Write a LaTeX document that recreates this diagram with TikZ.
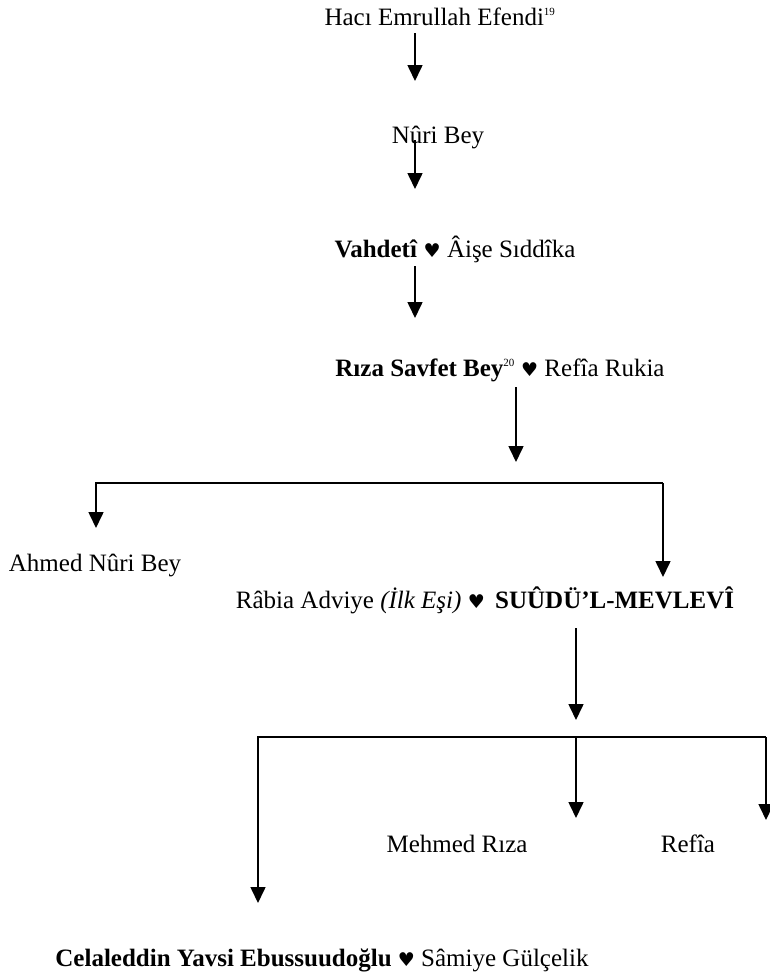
\documentclass[tikz,border=0pt]{standalone}
\usepackage{fontspec}
\setmainfont{Liberation Serif}
\newfontfamily\heartfont{DejaVu Sans}
\usetikzlibrary{arrows.meta}

\newcommand{\hrt}{{\heartfont\fontsize{19}{19}\selectfont ♥}}
\newcommand{\fnote}[1]{\textsuperscript{\fontsize{11}{11}\selectfont #1}}

\tikzset{
  person/.style={inner sep=0pt, anchor=base, font=\fontsize{25}{30}\selectfont},
  down/.style={-{Triangle[width=15pt,length=16pt]}, line width=1.6pt},
}

\begin{document}
\begin{tikzpicture}[x=1pt,y=-1pt]
    \useasboundingbox (0,0) rectangle (769,972);

    % First the people, line by line
    \node[person] (emrullah)   at (440,25)  {Hacı Emrullah Efendi\fnote{19}};
    \node[person] (nuri)       at (438,143) {Nûri Bey};
    \node[person] (vahdeti)    at (455,257) {\textbf{Vahdetî} \hrt{} Âişe Sıddîka};
    \node[person] (riza)       at (500,376) {\textbf{Rıza Savfet Bey}\fnote{20} \hrt{} Refîa Rukia};
    \node[person] (ahmed)      at (95,571)  {Ahmed Nûri Bey};
    \node[person] (suudu)      at (485,608) {Râbia Adviye \textit{(İlk Eşi)} \hrt{}\,\ \textbf{SUÛDÜ’L-MEVLEVÎ}};
    \node[person] (mehmed)     at (457,852) {Mehmed Rıza};
    \node[person] (refia)      at (688,852) {Refîa};
    \node[person] (celaleddin) at (322,966) {\textbf{Celaleddin Yavsi Ebussuudoğlu} \hrt{} Sâmiye Gülçelik};

    % Now the points where the lines meet
    \coordinate (stem)   at (415,0);
    \coordinate (fork1)  at (516,483);
    \coordinate (left1)  at (96,483);
    \coordinate (right1) at (663,483);
    \coordinate (fork2)  at (576,737);
    \coordinate (left2)  at (258,737);
    \coordinate (right2) at (766,737);

    % Now the straight descent
    \draw[down, shorten <=8pt,  shorten >=62pt] (emrullah.base -| stem) -- (nuri.base -| stem);
    \draw[down, shorten <=-3pt, shorten >=68pt] (nuri.base -| stem) -- (vahdeti.base -| stem);
    \draw[down, shorten <=9pt,  shorten >=58pt] (vahdeti.base -| stem) -- (riza.base -| stem);
    \draw[down, shorten <=11pt, shorten >=21pt] (riza.base -| fork1) -- (fork1);

    % Now the first branching
    \draw[down, shorten >=43pt] (right1) -- (left1) -- (ahmed.base -| left1);
    \draw[down, shorten >=31pt] (right1) -- (suudu.base -| right1);
    \draw[down, shorten <=20pt, shorten >=17pt] (suudu.base -| fork2) -- (fork2);

    % Now the children
    \draw[down, shorten >=63pt] (right2) -- (left2) -- (celaleddin.base -| left2);
    \draw[down, shorten >=34pt] (fork2) -- (mehmed.base -| fork2);
    \draw[down, shorten >=32pt] (right2) -- (refia.base -| right2);

\end{tikzpicture}
\end{document}
